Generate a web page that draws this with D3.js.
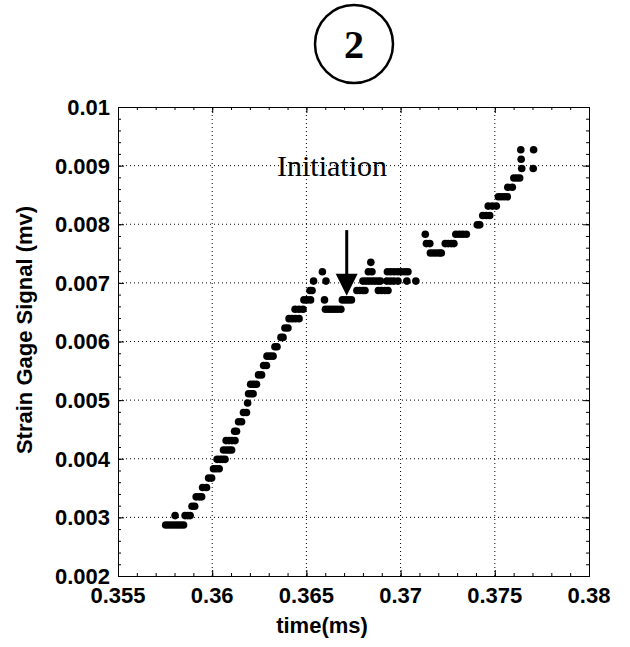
<!DOCTYPE html>
<html>
<head>
<meta charset="utf-8">
<script src="https://cdn.jsdelivr.net/npm/d3@7"></script>
<style>
body { margin: 0; background: #fff; }
</style>
</head>
<body>
<div id="chart"></div>
<script>
// samples, time in ms, signal in mv
var timeMs = [
    0.35753, 0.35769, 0.35785, 0.35801, 0.35817, 0.35832, 0.35848,
    0.35803, 0.35856, 0.35870, 0.35883,
    0.35893, 0.35907,
    0.35915, 0.35931, 0.35944,
    0.35949, 0.35970,
    0.35981, 0.35997,
    0.36007, 0.36021, 0.36037,
    0.36026, 0.36042, 0.36055, 0.36068,
    0.36060, 0.36076, 0.36090, 0.36103,
    0.36074, 0.36090, 0.36105, 0.36121,
    0.36119, 0.36129,
    0.36140, 0.36156,
    0.36166, 0.36182,
    0.36188,
    0.36193, 0.36206, 0.36217,
    0.36204, 0.36219, 0.36235,
    0.36246, 0.36262,
    0.36273, 0.36288,
    0.36291, 0.36307, 0.36323,
    0.36333, 0.36344,
    0.36365, 0.36376,
    0.36386, 0.36402,
    0.36408, 0.36424, 0.36442, 0.36461,
    0.36440, 0.36461, 0.36482,
    0.36487, 0.36503, 0.36522,
    0.36519, 0.36530,
    0.36538,
    0.36585,
    0.36604,
    0.36596,
    0.36601, 0.36617, 0.36633, 0.36649, 0.36665, 0.36683,
    0.36691, 0.36707, 0.36723, 0.36739,
    0.36768, 0.36784, 0.36800, 0.36811,
    0.36800, 0.36816, 0.36832, 0.36848, 0.36864, 0.36880, 0.36893,
    0.36829, 0.36848,
    0.36842,
    0.36882, 0.36898, 0.36917, 0.36933,
    0.36927, 0.36946, 0.36964, 0.36986, 0.37033, 0.37081,
    0.36930, 0.36948, 0.36967, 0.36986, 0.37004, 0.37023, 0.37039,
    0.37131,
    0.37137, 0.37155,
    0.37158, 0.37174, 0.37190, 0.37206, 0.37216,
    0.37237, 0.37253, 0.37269, 0.37283,
    0.37293, 0.37312, 0.37330, 0.37349,
    0.37407, 0.37420,
    0.37436, 0.37455, 0.37473,
    0.37465, 0.37487, 0.37508,
    0.37519, 0.37534, 0.37550, 0.37566,
    0.37569, 0.37593,
    0.37601, 0.37617, 0.37632,
    0.37638, 0.37640, 0.37643,
    0.37704, 0.37706
]
var signalMv = [
    0.00287, 0.00287, 0.00287, 0.00287, 0.00287, 0.00287, 0.00287,
    0.00303, 0.00303, 0.00303, 0.00303,
    0.00319, 0.00319,
    0.00335, 0.00335, 0.00335,
    0.00351, 0.00351,
    0.00367, 0.00367,
    0.00383, 0.00383, 0.00383,
    0.00399, 0.00399, 0.00399, 0.00399,
    0.00415, 0.00415, 0.00415, 0.00415,
    0.00431, 0.00431, 0.00431, 0.00431,
    0.00447, 0.00447,
    0.00463, 0.00463,
    0.00479, 0.00479,
    0.00495,
    0.00511, 0.00511, 0.00511,
    0.00527, 0.00527, 0.00527,
    0.00543, 0.00543,
    0.00559, 0.00559,
    0.00575, 0.00575, 0.00575,
    0.00591, 0.00591,
    0.00607, 0.00607,
    0.00623, 0.00623,
    0.00639, 0.00639, 0.00639, 0.00639,
    0.00655, 0.00655, 0.00655,
    0.00671, 0.00671, 0.00671,
    0.00687, 0.00687,
    0.00703,
    0.00719,
    0.00703,
    0.00671,
    0.00655, 0.00655, 0.00655, 0.00655, 0.00655, 0.00655,
    0.00671, 0.00671, 0.00671, 0.00671,
    0.00687, 0.00687, 0.00687, 0.00687,
    0.00703, 0.00703, 0.00703, 0.00703, 0.00703, 0.00703, 0.00703,
    0.00719, 0.00719,
    0.00735,
    0.00687, 0.00687, 0.00687, 0.00687,
    0.00703, 0.00703, 0.00703, 0.00703, 0.00703, 0.00703,
    0.00719, 0.00719, 0.00719, 0.00719, 0.00719, 0.00719, 0.00719,
    0.00783,
    0.00767, 0.00767,
    0.00751, 0.00751, 0.00751, 0.00751, 0.00751,
    0.00767, 0.00767, 0.00767, 0.00767,
    0.00783, 0.00783, 0.00783, 0.00783,
    0.00799, 0.00799,
    0.00815, 0.00815, 0.00815,
    0.00831, 0.00831, 0.00831,
    0.00847, 0.00847, 0.00847, 0.00847,
    0.00863, 0.00863,
    0.00879, 0.00879, 0.00879,
    0.00927, 0.00911, 0.00895,
    0.00895, 0.00927
]

var xTicks = [0.355, 0.36, 0.365, 0.37, 0.375, 0.38]
var xTickLabels = ['0.355', '0.36', '0.365', '0.37', '0.375', '0.38']
var yTicks = [0.002, 0.003, 0.004, 0.005, 0.006, 0.007, 0.008, 0.009, 0.01]
var yTickLabels = ['0.002', '0.003', '0.004', '0.005', '0.006', '0.007', '0.008', '0.009', '0.01']

// initiation arrow (time, top of shaft, tip)
var arrowTime = 0.36714
var arrowTop = 0.0079
var arrowTip = 0.00678

var W = 630, H = 647
var plotLeft = 118, plotRight = 589, plotTop = 107, plotBottom = 576
var sansFont = '"Liberation Sans", Arial, Helvetica, sans-serif'
var serifFont = '"Liberation Serif", "Times New Roman", serif'

var x = d3.scaleLinear().domain([0.355, 0.38]).range([plotLeft, plotRight])
var y = d3.scaleLinear().domain([0.002, 0.01]).range([plotBottom, plotTop])

var svg = d3.select('#chart').append('svg')
    .attr('width', W)
    .attr('height', H)
    .style('background', '#fff')

// dotted grid
svg.append('g').selectAll('line')
    .data(xTicks.slice(1, -1))
    .join('line')
    .attr('x1', d => x(d)).attr('x2', d => x(d))
    .attr('y1', plotTop).attr('y2', plotBottom)
    .attr('stroke', '#000')
    .attr('stroke-width', 1)
    .attr('stroke-dasharray', '1,3')
svg.append('g').selectAll('line')
    .data(yTicks.slice(1, -1))
    .join('line')
    .attr('x1', plotLeft).attr('x2', plotRight)
    .attr('y1', d => y(d)).attr('y2', d => y(d))
    .attr('stroke', '#000')
    .attr('stroke-width', 1)
    .attr('stroke-dasharray', '1,3')

// frame with inward ticks on all four sides
var xMinor = d3.range(0, 26).map(i => 0.355 + i * 0.001)
var yMinor = d3.range(0, 41).map(i => 0.002 + i * 0.0002)

var addAxis = (axis, tx, ty) => {
    var g = svg.append('g')
        .attr('transform', 'translate(' + tx + ',' + ty + ')')
        .call(axis)
    g.selectAll('text').remove()
    g.selectAll('path, line').attr('stroke', '#000').attr('stroke-width', 1)
    return g
}
addAxis(d3.axisBottom(x).tickValues(xMinor).tickSize(-3).tickSizeOuter(0), 0, plotBottom)
addAxis(d3.axisTop(x).tickValues(xMinor).tickSize(-3).tickSizeOuter(0), 0, plotTop)
addAxis(d3.axisLeft(y).tickValues(yMinor).tickSize(-3).tickSizeOuter(0), plotLeft, 0)
addAxis(d3.axisRight(y).tickValues(yMinor).tickSize(-3).tickSizeOuter(0), plotRight, 0)
addAxis(d3.axisBottom(x).tickValues(xTicks).tickSize(-6).tickSizeOuter(0), 0, plotBottom)
addAxis(d3.axisTop(x).tickValues(xTicks).tickSize(-6).tickSizeOuter(0), 0, plotTop)
addAxis(d3.axisLeft(y).tickValues(yTicks).tickSize(-6).tickSizeOuter(0), plotLeft, 0)
addAxis(d3.axisRight(y).tickValues(yTicks).tickSize(-6).tickSizeOuter(0), plotRight, 0)

// tick labels
svg.append('g').selectAll('text')
    .data(xTicks)
    .join('text')
    .attr('x', d => x(d))
    .attr('y', plotBottom + 27)
    .attr('text-anchor', 'middle')
    .style('font-family', sansFont)
    .style('font-weight', 'bold')
    .style('font-size', '22px')
    .text((d, i) => xTickLabels[i])
svg.append('g').selectAll('text')
    .data(yTicks)
    .join('text')
    .attr('x', plotLeft - 8)
    .attr('y', d => y(d))
    .attr('dy', '0.36em')
    .attr('text-anchor', 'end')
    .style('font-family', sansFont)
    .style('font-weight', 'bold')
    .style('font-size', '22px')
    .text((d, i) => yTickLabels[i])

// axis titles
svg.append('text')
    .attr('x', 322)
    .attr('y', 633)
    .attr('text-anchor', 'middle')
    .style('font-family', sansFont)
    .style('font-weight', 'bold')
    .style('font-size', '22px')
    .text('time(ms)')
svg.append('text')
    .attr('transform', 'translate(32,330) rotate(-90)')
    .attr('text-anchor', 'middle')
    .style('font-family', sansFont)
    .style('font-weight', 'bold')
    .style('font-size', '22px')
    .text('Strain Gage Signal (mv)')

// data
svg.append('g').selectAll('circle')
    .data(timeMs)
    .join('circle')
    .attr('cx', d => x(d))
    .attr('cy', (d, i) => y(signalMv[i]))
    .attr('r', 3.8)
    .attr('fill', '#000')

// annotation
svg.append('text')
    .attr('x', 387)
    .attr('y', 176)
    .attr('text-anchor', 'end')
    .style('font-family', serifFont)
    .style('font-size', '30px')
    .text('Initiation')
var ax = x(arrowTime), ayTop = y(arrowTop), ayTip = y(arrowTip)
svg.append('line')
    .attr('x1', ax).attr('x2', ax)
    .attr('y1', ayTop).attr('y2', ayTip - 20)
    .attr('stroke', '#000')
    .attr('stroke-width', 3)
svg.append('path')
    .attr('d', 'M' + (ax - 11) + ',' + (ayTip - 22) + 'L' + (ax + 11) + ',' + (ayTip - 22) + 'L' + ax + ',' + ayTip + 'Z')
    .attr('fill', '#000')

// circled panel number
svg.append('circle')
    .attr('cx', 354)
    .attr('cy', 44)
    .attr('r', 39)
    .attr('fill', 'none')
    .attr('stroke', '#000')
    .attr('stroke-width', 2.5)
svg.append('text')
    .attr('x', 354)
    .attr('y', 58)
    .attr('text-anchor', 'middle')
    .style('font-family', serifFont)
    .style('font-weight', 'bold')
    .style('font-size', '40px')
    .text('2')
</script>
</body>
</html>
